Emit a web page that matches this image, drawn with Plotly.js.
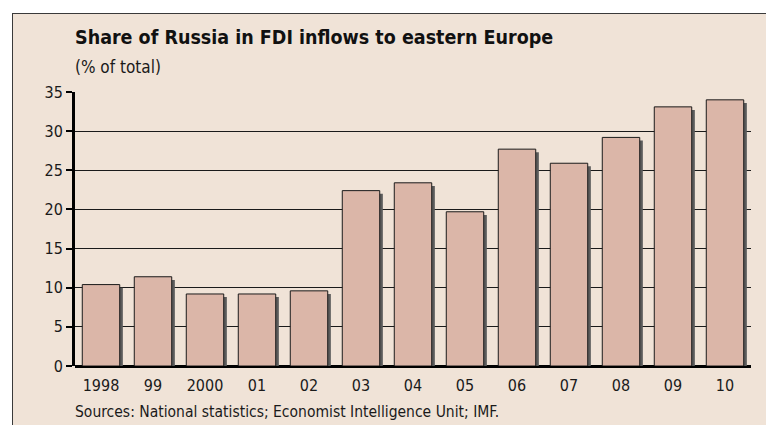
<!DOCTYPE html>
<html>
<head>
<meta charset="utf-8">
<script src="https://cdn.plot.ly/plotly-3.0.1.min.js"></script>
<style>
  html, body { margin: 0; padding: 0; background: #ffffff; width: 766px; height: 425px; overflow: hidden; }
  #chart { position: absolute; left: 12px; top: 13px; width: 753px; height: 412px;
           border-top: 1px solid #3a3a3a; border-left: 1px solid #3a3a3a; background: #f0e3d7; }
</style>
</head>
<body>
<div id="chart"></div>
<script>
const categories = ["1998", "99", "2000", "01", "02", "03", "04", "05", "06", "07", "08", "09", "10"];
const shareOfRussia = [10.4, 11.4, 9.2, 9.2, 9.6, 22.4, 23.4, 19.7, 27.7, 25.9, 29.2, 33.1, 34.0];
const yTickValues = [0, 5, 10, 15, 20, 25, 30, 35];

const titleText = "Share of Russia in FDI inflows to eastern Europe";
const subtitleText = "(% of total)";
const sourceText = "Sources: National statistics; Economist Intelligence Unit; IMF.";

const FONT = "'Liberation Sans Narrow', 'DejaVu Sans Condensed', 'Roboto Condensed', sans-serif";
const idx = categories.map((c, i) => i);

const shadow = {
  type: "bar",
  x: idx,
  y: shareOfRussia.map(v => v - 0.4),
  width: 0.72,
  offset: -0.30,
  marker: { color: "#5b5b5b", line: { width: 0 } },
  hoverinfo: "skip",
  showlegend: false
};
const bars = {
  type: "bar",
  x: idx,
  y: shareOfRussia,
  width: 0.72,
  offset: -0.36,
  marker: { color: "#dbb6a8", line: { color: "#1a1a1a", width: 1 } },
  showlegend: false
};

const layout = {
  width: 753, height: 411,
  margin: { l: 62, r: 15, t: 78, b: 59 },
  paper_bgcolor: "#f0e3d7",
  plot_bgcolor: "#f0e3d7",
  barmode: "overlay",
  font: { family: FONT, color: "#1a1a1a", size: 15 },
  xaxis: {
    type: "linear",
    range: [-0.5, 12.5],
    tickmode: "array",
    tickvals: idx,
    ticktext: categories,
    showgrid: false,
    zeroline: false,
    showline: false,
    ticks: "outside",
    ticklen: 5,
    tickcolor: "rgba(0,0,0,0)",
    tickfont: { size: 16, family: FONT, color: "#1a1a1a" },
    fixedrange: true
  },
  yaxis: {
    range: [0, 35],
    tickmode: "array",
    tickvals: yTickValues,
    showgrid: true,
    gridcolor: "#1a1a1a",
    gridwidth: 1,
    zeroline: true,
    zerolinecolor: "#000000",
    zerolinewidth: 3,
    showline: true,
    linecolor: "#000000",
    linewidth: 3,
    ticks: "outside",
    ticklen: 6,
    tickwidth: 2,
    tickcolor: "#000000",
    tickfont: { size: 16, family: FONT, color: "#1a1a1a" },
    fixedrange: true
  },
  annotations: [
    { text: "<b>" + titleText + "</b>", xref: "paper", yref: "paper", x: 0, y: 1.2, xanchor: "left", yanchor: "middle",
      xshift: -2, showarrow: false, font: { size: 19.5, family: FONT, color: "#111111" } },
    { text: subtitleText, xref: "paper", yref: "paper", x: 0, y: 1.091, xanchor: "left", yanchor: "middle",
      xshift: -2, showarrow: false, font: { size: 17, family: FONT, color: "#1a1a1a" } },
    { text: sourceText, xref: "paper", yref: "paper", x: 0, y: -0.168, xanchor: "left", yanchor: "middle",
      xshift: -2, showarrow: false, font: { size: 15.5, family: FONT, color: "#1a1a1a" } }
  ]
};

Plotly.newPlot("chart", [shadow, bars], layout, { staticPlot: true, displayModeBar: false });
</script>
</body>
</html>
